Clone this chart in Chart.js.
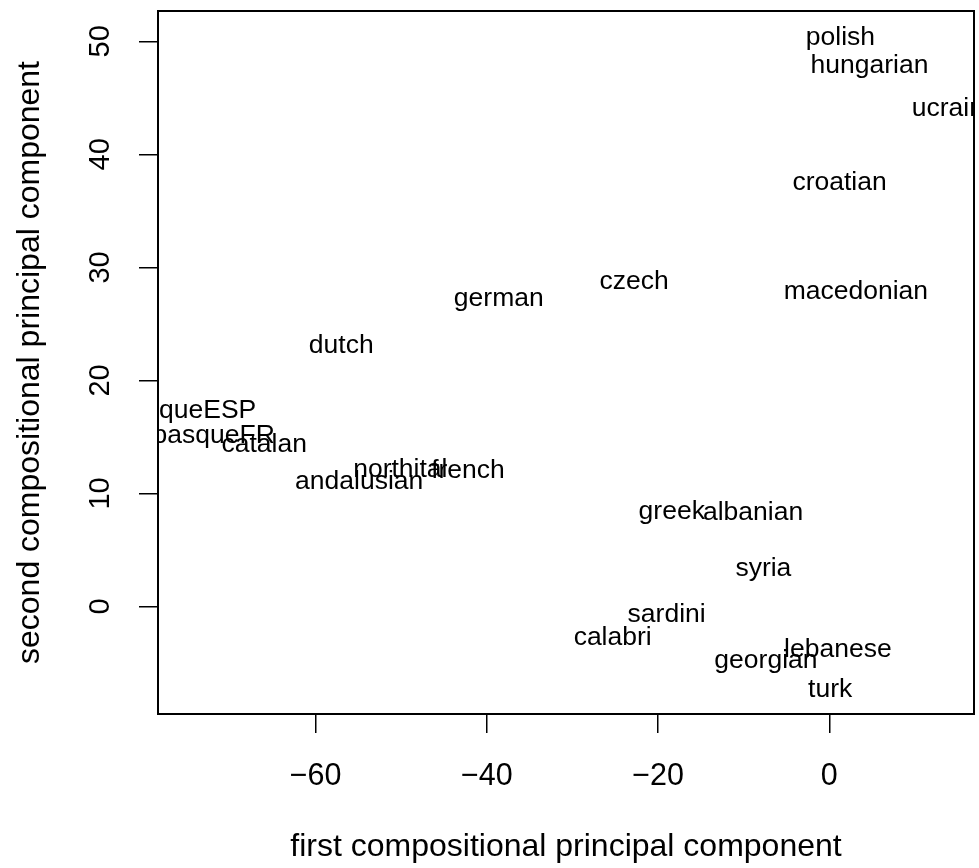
<!DOCTYPE html>
<html>
<head>
<meta charset="utf-8">
<script src="https://cdn.jsdelivr.net/npm/chart.js@4.4.1/dist/chart.umd.min.js"></script>
<style>
  html, body { margin: 0; padding: 0; background: #fff; }
  canvas { display: block; }
</style>
</head>
<body>
<canvas id="pcaChart" width="979" height="868"></canvas>
<script>
// population labels and their scores on the first two compositional PCs
var names = ["polish", "hungarian", "ucraine", "croatian", "macedonian", "czech", "german", "dutch",
             "basqueESP", "basqueFR", "catalan", "northital", "andalusian", "french",
             "greek", "albanian", "syria", "sardini", "calabri", "lebanese", "georgian", "turk"];
var pc1 = [1.3, 4.7, 14.7, 1.2, 3.1, -22.8, -38.6, -57.0,
           -75.1, -71.9, -66.0, -50.1, -54.9, -42.2,
           -18.4, -8.9, -7.7, -19.0, -25.3, 1.0, -7.4, 0.1];
var pc2 = [50.5, 48.0, 44.2, 37.7, 28.0, 28.9, 27.4, 23.3,
           17.5, 15.3, 14.5, 12.3, 11.2, 12.2,
           8.6, 8.5, 3.5, -0.5, -2.6, -3.6, -4.6, -7.2];

var xTicks = [-60, -40, -20, 0];
var yTicks = [0, 10, 20, 30, 40, 50];

var labelFont = 26.5;

Chart.defaults.font.family = '"Liberation Sans", Arial, Helvetica, sans-serif';
Chart.defaults.color = '#000';

var points = [];
for (var i = 0; i < names.length; i++) {
    points.push({ x: pc1[i], y: pc2[i], name: names[i] });
}

// draws the names at the point positions, clipped like R's plot region
var textLabels = {
    id: 'textLabels',
    afterDatasetsDraw: function (chart) {
        var ctx = chart.ctx;
        var area = chart.chartArea;
        var xs = chart.scales.x, ys = chart.scales.y;
        ctx.save();
        ctx.beginPath();
        ctx.rect(area.left, area.top, area.right - area.left, area.bottom - area.top);
        ctx.clip();
        ctx.fillStyle = '#000';
        ctx.font = labelFont + 'px "Liberation Sans", Arial, sans-serif';
        ctx.textAlign = 'center';
        ctx.textBaseline = 'alphabetic';
        chart.data.datasets[0].data.forEach(function (p) {
            var px = xs.getPixelForValue(p.x);
            var py = ys.getPixelForValue(p.y);
            ctx.fillText(p.name, px, py + labelFont * 0.358);
        });
        ctx.restore();
    },
    afterDraw: function (chart) {
        var ctx = chart.ctx;
        var a = chart.chartArea;
        ctx.save();
        ctx.strokeStyle = '#000';
        ctx.lineWidth = 2;
        ctx.strokeRect(a.left, a.top, a.right - a.left, a.bottom - a.top);
        ctx.restore();
    }
};

var ctx = document.getElementById("pcaChart");
new Chart(ctx, {
    type: 'scatter',
    data: {
        datasets: [{
            data: points,
            pointRadius: 0,
            pointHoverRadius: 0,
            showLine: false
        }]
    },
    options: {
        responsive: false,
        animation: false,
        devicePixelRatio: 1,
        layout: { padding: { top: 11, right: 5, left: 0, bottom: 0 } },
        plugins: {
            legend: { display: false },
            tooltip: { enabled: false }
        },
        scales: {
            x: {
                type: 'linear',
                min: -78.4,
                max: 16.9,
                afterBuildTicks: function (axis) {
                    axis.ticks = xTicks.map(function (v) { return { value: v }; });
                },
                afterFit: function (axis) {
                    axis.height = 154;
                    axis.paddingLeft = 0;
                    axis.paddingRight = 0;
                },
                grid: { display: true, drawOnChartArea: false, drawTicks: true, tickLength: 19, color: '#000', lineWidth: 1.5 },
                border: { display: true, color: '#000', width: 2 },
                ticks: {
                    font: { size: 30.5 },
                    padding: 25,
                    maxRotation: 0,
                    callback: function (v) { return String(v).replace('-', '\u2212'); }
                },
                title: {
                    display: true,
                    text: 'first compositional principal component',
                    font: { size: 32 },
                    padding: { top: 0, bottom: 2 }
                }
            },
            y: {
                type: 'linear',
                min: -9.51,
                max: 52.68,
                afterBuildTicks: function (axis) {
                    axis.ticks = yTicks.map(function (v) { return { value: v }; });
                },
                afterFit: function (axis) {
                    axis.width = 158;
                    axis.paddingTop = 0;
                    axis.paddingBottom = 0;
                },
                grid: { display: true, drawOnChartArea: false, drawTicks: true, tickLength: 19, color: '#000', lineWidth: 1.5 },
                border: { display: true, color: '#000', width: 2 },
                ticks: {
                    font: { size: 29 },
                    padding: 22,
                    minRotation: 90,
                    maxRotation: 90,
                    crossAlign: 'center'
                },
                title: {
                    display: true,
                    text: 'second compositional principal component',
                    font: { size: 32 },
                    padding: { top: 11, bottom: 0 }
                }
            }
        }
    },
    plugins: [textLabels]
});
</script>
</body>
</html>
